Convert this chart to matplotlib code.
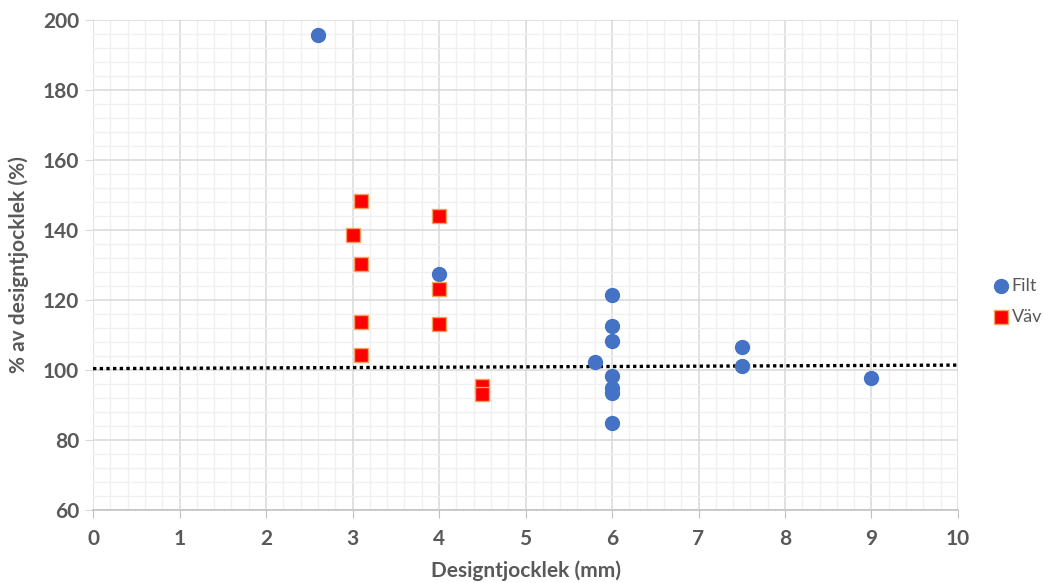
import numpy as np
import matplotlib
matplotlib.use("Agg")
import matplotlib.pyplot as plt
from matplotlib.ticker import MultipleLocator

# thickness (mm) vs % of design thickness
filt_x = [2.6, 4.0, 6.0, 6.0, 6.0, 6.0, 6.0, 6.0, 6.0, 5.8, 7.5, 7.5, 9.0]
filt_y = [195.7, 127.4, 121.4, 112.6, 108.3, 98.3, 94.9, 93.4, 84.9, 102.2, 106.6, 101.1, 97.6]

vav_x = [3.1, 3.1, 3.1, 3.1, 3.0, 4.0, 4.0, 4.0, 4.5, 4.5]
vav_y = [148.3, 130.3, 113.7, 104.3, 138.6, 144.1, 123.1, 113.1, 95.4, 93.1]

# linear trend line
trend_intercept = 100.4
trend_slope = 0.10

plt.rcParams["font.family"] = ["Lato", "DejaVu Sans"]
grey = "#595959"
fig = plt.figure(figsize=(10.43, 5.83), dpi=100)
ax = fig.add_axes([0.0892, 0.1252, 0.8293, 0.8405])

ax.set_xlim(0, 10)
ax.set_ylim(60, 200)
ax.xaxis.set_major_locator(MultipleLocator(1))
ax.xaxis.set_minor_locator(MultipleLocator(0.2))
ax.yaxis.set_major_locator(MultipleLocator(20))
ax.yaxis.set_minor_locator(MultipleLocator(4))
ax.grid(which="major", color="#d9d9d9", lw=1.1)
ax.grid(which="minor", color="#f0f0f0", lw=1.0)
ax.set_axisbelow(True)

for s in ["top", "right", "left"]:
    ax.spines[s].set_visible(False)
ax.spines["bottom"].set_color("#bfbfbf")
ax.spines["bottom"].set_linewidth(1.1)

ax.tick_params(axis="x", which="major", length=6, color="#bfbfbf", labelsize=15,
               labelcolor=grey, pad=8)
ax.tick_params(axis="y", which="major", length=6, color="#d9d9d9", labelsize=15,
               labelcolor=grey, pad=4)
ax.tick_params(which="minor", length=0)
for lab in ax.get_xticklabels() + ax.get_yticklabels():
    lab.set_fontweight("bold")

xs = np.array([0, 10])
ax.plot(xs, trend_intercept + trend_slope * xs, color="black", ls=(0, (1, 1)), lw=2.4, zorder=2)

ax.scatter(filt_x, filt_y, s=100, marker="o", color="#4472c4", zorder=3, label="Filt")
ax.scatter(vav_x, vav_y, s=100, marker="s", facecolor="#ff0000", edgecolor="#f4a460",
           linewidths=1.0, zorder=3, label="Väv")

ax.set_xlabel("Designtjocklek (mm)", fontsize=15, fontweight="bold", color=grey, labelpad=8)
ax.set_ylabel("% av designtjocklek (%)", fontsize=15, fontweight="bold", color=grey, labelpad=10)

leg = fig.legend(loc="center left", bbox_to_anchor=(0.951, 0.483), frameon=False,
                 fontsize=13, handletextpad=0.1, labelspacing=0.85, handlelength=1.0,
                 borderaxespad=0, borderpad=0)
for t in leg.get_texts():
    t.set_color(grey)

fig.savefig("out.png", dpi=100)
